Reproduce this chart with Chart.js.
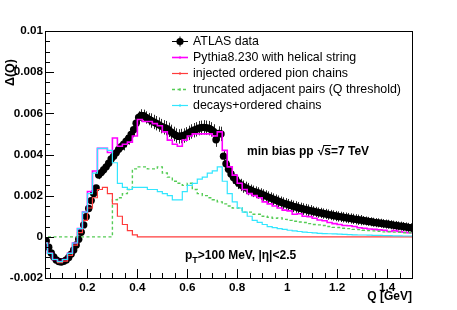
<!DOCTYPE html>
<html>
<head>
<meta charset="utf-8">
<script src="https://cdn.jsdelivr.net/npm/chart.js@4.4.1/dist/chart.umd.min.js"></script>
<style>
  html, body { margin: 0; padding: 0; background: #fff; }
  #wrap { width: 457px; height: 310px; }
</style>
</head>
<body>
<div id="wrap"><canvas id="chart" width="457" height="310"></canvas></div>
<script>
// ATLAS data: bin centres from 0.035 GeV, 0.01 GeV apart
const atlasFirstQ = 0.035;
const atlasStep = 0.01;
const atlasValues = [
  -0.00020, -0.00050, -0.00078, -0.00098, -0.00112, -0.00120, -0.00122, -0.00119, -0.00112, -0.00100,
  -0.00084, -0.00064, -0.00040, -0.00012, 0.00022, 0.00058, 0.00098, 0.00138, 0.00176, 0.00210,
  0.00238, 0.00300, 0.00312, 0.00326, 0.00340, 0.00358, 0.00378, 0.00392, 0.00408, 0.00425,
  0.00438, 0.00450, 0.00465, 0.00478, 0.00498, 0.00520, 0.00552, 0.00580, 0.00590, 0.00588,
  0.00580, 0.00572, 0.00565, 0.00558, 0.00552, 0.00545, 0.00538, 0.00532, 0.00528, 0.00520,
  0.00510, 0.00500, 0.00492, 0.00488, 0.00490, 0.00492, 0.00498, 0.00505, 0.00512, 0.00518,
  0.00522, 0.00528, 0.00530, 0.00532, 0.00530, 0.00528, 0.00522, 0.00512, 0.00472, 0.00502,
  0.00500, 0.00392, 0.00355, 0.00328, 0.00305, 0.00288, 0.00274, 0.00262, 0.00252, 0.00244,
  0.00238, 0.00232, 0.00226, 0.00221, 0.00217, 0.00213, 0.00208, 0.00203, 0.00198, 0.00193,
  0.00188, 0.00183, 0.00178, 0.00173, 0.00168, 0.00164, 0.00160, 0.00156, 0.00152, 0.00148,
  0.00145, 0.00141, 0.00138, 0.00135, 0.00132, 0.00129, 0.00126, 0.00124, 0.00121, 0.00118,
  0.00116, 0.00113, 0.00111, 0.00108, 0.00106, 0.00104, 0.00101, 0.00099, 0.00097, 0.00095,
  0.00093, 0.00091, 0.00089, 0.00087, 0.00085, 0.00083, 0.00081, 0.00079, 0.00077, 0.00075,
  0.00073, 0.00071, 0.00069, 0.00068, 0.00066, 0.00064, 0.00062, 0.00061, 0.00059, 0.00057,
  0.00055, 0.00053, 0.00052, 0.00050, 0.00048, 0.00046, 0.00044
];
const atlasErrors = [
  0.00006, 0.00006, 0.00006, 0.00006, 0.00006, 0.00006, 0.00006, 0.00006, 0.00006, 0.00006,
  0.00006, 0.00006, 0.0001, 0.0001, 0.0001, 0.0001, 0.0001, 0.0001, 0.0001, 0.0001,
  0.0001, 0.0002, 0.0002, 0.0002, 0.0002, 0.0002, 0.0002, 0.0002, 0.0002, 0.0002,
  0.0002, 0.0003, 0.0003, 0.0003, 0.0003, 0.0003, 0.0003, 0.0003, 0.0003, 0.0003,
  0.0003, 0.0003, 0.00035, 0.00035, 0.00035, 0.00035, 0.00035, 0.00035, 0.00035, 0.00035,
  0.00035, 0.00035, 0.00035, 0.00035, 0.00035, 0.00035, 0.00035, 0.00035, 0.00035, 0.00035,
  0.00035, 0.00035, 0.00035, 0.00035, 0.00035, 0.00035, 0.00035, 0.00035, 0.00035, 0.00035,
  0.00035, 0.0003, 0.0003, 0.0003, 0.0003, 0.0003, 0.0003, 0.0003, 0.0003, 0.0003,
  0.0003, 0.0003, 0.00028, 0.00028, 0.00028, 0.00028, 0.00028, 0.00028, 0.00028, 0.00028,
  0.00028, 0.00028, 0.00028, 0.00028, 0.00028, 0.00028, 0.00028, 0.00028, 0.00028, 0.00028,
  0.00028, 0.00028, 0.00028, 0.00028, 0.00028, 0.00028, 0.00028, 0.00025, 0.00025, 0.00025,
  0.00025, 0.00025, 0.00025, 0.00025, 0.00025, 0.00025, 0.00025, 0.00025, 0.00025, 0.00025,
  0.00025, 0.00025, 0.00025, 0.00025, 0.00025, 0.00025, 0.00025, 0.00022, 0.00022, 0.00022,
  0.00022, 0.00022, 0.00022, 0.00022, 0.00022, 0.00022, 0.00022, 0.00022, 0.00022, 0.00022,
  0.00022, 0.00022, 0.00022, 0.00022, 0.00022, 0.00022, 0.00022
];

// MC histograms: 0.02 GeV bins, first bin edge at 0.02 GeV
const mcFirstEdge = 0.02;
const mcBinWidth = 0.02;
const pythiaValues = [
  -0.0003, -0.0008, -0.0011, -0.0012, -0.0011, -0.0008, -0.0003, 0.0004, 0.0012, 0.0022,
  0.0032, 0.0043, 0.0043, 0.0041, 0.0048, 0.0044, 0.0045, 0.0046, 0.0049, 0.0057,
  0.0056, 0.0056, 0.0055, 0.0054, 0.0051, 0.0047, 0.0045, 0.0044, 0.0047, 0.0049,
  0.0050, 0.0050, 0.0050, 0.0050, 0.0049, 0.0051, 0.0042, 0.0034, 0.0030, 0.0026,
  0.0023, 0.0021, 0.0020, 0.0019, 0.0017, 0.0016, 0.0015, 0.0014, 0.0013, 0.00126,
  0.00110, 0.00112, 0.00100, 0.00098, 0.00090, 0.00082, 0.00078, 0.00070, 0.00064, 0.00060,
  0.00055, 0.00054, 0.00050, 0.00044, 0.00042, 0.00038, 0.00036, 0.00034, 0.00032, 0.00026,
  0.00030, 0.00026, 0.00022, 0.00020
];
const injectedValues = [
  -0.0003, -0.0008, -0.0011, -0.00125, -0.00118, -0.0009, -0.0004, 0.0002, 0.0008, 0.0014,
  0.0019, 0.0023, 0.0024, 0.0021, 0.0016, 0.0010, 0.0006, 0.0003, 0.0001, 0,
  0, 0, 0, 0, 0, 0, 0, 0, 0, 0,
  0, 0, 0, 0, 0, 0, 0, 0, 0, 0,
  0, 0, 0, 0, 0, 0, 0, 0, 0, 0,
  0, 0, 0, 0, 0, 0, 0, 0, 0, 0,
  0, 0, 0, 0, 0, 0, 0, 0, 0, 0,
  0, 0, 0, 0
];
const truncatedValues = [
  0, 0, 0, 0, 0, 0, 0, 0, 0, 0,
  0, 0, 0, 0, 0.0018, 0.0019, 0.0021, 0.0023, 0.0033, 0.0034,
  0.0034, 0.0033, 0.0033, 0.0034, 0.0031, 0.0029, 0.0027, 0.0026, 0.0025, 0.0026,
  0.0023, 0.0021, 0.0020, 0.0019, 0.0018, 0.0017, 0.0016, 0.0015, 0.0014, 0.0014,
  0.0012, 0.0012, 0.0011, 0.0011, 0.0010, 0.00095, 0.0009, 0.00092, 0.00085, 0.0008,
  0.00076, 0.00072, 0.0007, 0.00064, 0.0006, 0.00058, 0.00055, 0.0005, 0.00046, 0.00045,
  0.00042, 0.0004, 0.00036, 0.00035, 0.00032, 0.0003, 0.00029, 0.00027, 0.00024, 0.00025,
  0.00023, 0.00022, 0.0002, 0.0002
];
const decaysValues = [
  -0.0003, -0.0008, -0.0011, -0.0012, -0.0011, -0.0008, -0.0003, 0.0004, 0.0012, 0.0021,
  0.0031, 0.0043, 0.0043, 0.0042, 0.0036, 0.0026, 0.0024, 0.0023, 0.0024, 0.0024,
  0.0024, 0.0023, 0.0023, 0.0022, 0.0021, 0.0020, 0.0018, 0.0018, 0.0022, 0.0025,
  0.0026, 0.0028, 0.0029, 0.0031, 0.0032, 0.0034, 0.0027, 0.0021, 0.0017, 0.0014,
  0.0012, 0.0010, 0.0008, 0.0007, 0.0006, 0.0005, 0.00045, 0.0004, 0.00036, 0.00032,
  0.00029, 0.00026, 0.00023, 0.00021, 0.00019, 0.00017, 0.00016, 0.00015, 0.00014, 0.00013,
  0.00012, 0.00011, 0.0001, 0.00009, 0.00009, 0.00008, 0.00007, 0.00007, 0.00006, 0.00006,
  0.00005, 0.00005, 0.00004, 0.00004
];

const seriesLabels = [
  'ATLAS data',
  'Pythia8.230 with helical string',
  'injected ordered pion chains',
  'truncated adjacent pairs (Q threshold)',
  'decays+ordered chains'
];
const yTickValues = [-0.002, 0, 0.002, 0.004, 0.006, 0.008, 0.01];
const yTickLabels = ['-0.002', '0', '0.002', '0.004', '0.006', '0.008', '0.01'];
const xTickValues = [0.2, 0.4, 0.6, 0.8, 1, 1.2, 1.4];
const xTickLabels = ['0.2', '0.4', '0.6', '0.8', '1', '1.2', '1.4'];

const FONT = '"Liberation Sans", Arial, Helvetica, sans-serif';
const font = (size, bold) => (bold ? 'bold ' : '') + size + 'px ' + FONT;

// step histogram: one point per left bin edge + closing point at the last right edge
function histPoints(values) {
  const pts = values.map((v, i) => ({ x: mcFirstEdge + i * mcBinWidth, y: v }));
  pts.push({ x: mcFirstEdge + values.length * mcBinWidth, y: values[values.length - 1] });
  return pts;
}

const atlasPoints = atlasValues.map((v, i) => ({ x: atlasFirstQ + i * atlasStep, y: v }));

function histDataset(label, values, color, width, order, dash) {
  return {
    label,
    data: histPoints(values),
    showLine: true,
    stepped: true,
    borderColor: color,
    borderWidth: width,
    borderDash: dash || [],
    pointRadius: 0,
    fill: false,
    order
  };
}

// ROOT-like frame, inward ticks, error bars, legend and labels
const rootStyle = {
  id: 'rootStyle',
  beforeDatasetsDraw(chart) {
    const { ctx, scales: { x, y } } = chart;
    const area = chart.chartArea;
    ctx.save();
    ctx.beginPath();
    ctx.rect(area.left, area.top, area.right - area.left, area.bottom - area.top);
    ctx.clip();
    ctx.strokeStyle = '#2a2a2a';
    ctx.lineWidth = 1;
    ctx.beginPath();
    atlasPoints.forEach((p, i) => {
      const px = Math.round(x.getPixelForValue(p.x)) + 0.5;
      ctx.moveTo(px, y.getPixelForValue(p.y + atlasErrors[i]));
      ctx.lineTo(px, y.getPixelForValue(p.y - atlasErrors[i]));
    });
    ctx.stroke();
    ctx.restore();
  },
  afterDraw(chart) {
    const { ctx, scales: { x, y } } = chart;
    const { left, right, top, bottom } = chart.chartArea;
    ctx.save();

    // frame
    ctx.strokeStyle = '#000';
    ctx.lineWidth = 1;
    ctx.strokeRect(Math.round(left) + 0.5, Math.round(top) + 0.5,
      Math.round(right - left), Math.round(bottom - top));

    // y ticks every 0.0005, major every 0.002
    ctx.beginPath();
    for (let k = -4; k <= 20; k++) {
      const py = Math.round(y.getPixelForValue(k * 0.0005)) + 0.5;
      const len = k % 4 === 0 ? 9 : 5;
      ctx.moveTo(left, py);
      ctx.lineTo(left + len, py);
    }
    // x ticks every 0.05, major every 0.2
    for (let k = 1; k <= 30; k++) {
      const q = k * 0.05;
      if (q < x.min) continue;
      const px = Math.round(x.getPixelForValue(q)) + 0.5;
      const len = k % 4 === 0 ? 9 : 5;
      ctx.moveTo(px, bottom);
      ctx.lineTo(px, bottom - len);
    }
    ctx.stroke();

    // legend
    const ds = chart.data.datasets;
    ctx.font = font(12.4, false);
    ctx.textBaseline = 'middle';
    ctx.textAlign = 'left';
    ds.forEach((d, i) => {
      const ry = Math.round(41 + i * 15.9) + 0.5;
      const x0 = 172, x1 = 188, xm = 180;
      ctx.save();
      if (i === 0) {
        ctx.strokeStyle = '#000';
        ctx.lineWidth = 1;
        ctx.beginPath();
        ctx.moveTo(x0, ry); ctx.lineTo(x1, ry);
        ctx.moveTo(xm, ry - 5); ctx.lineTo(xm, ry + 5);
        ctx.stroke();
        ctx.fillStyle = '#000';
        ctx.beginPath();
        ctx.arc(xm, ry, 3.6, 0, Math.PI * 2);
        ctx.fill();
      } else {
        ctx.strokeStyle = d.borderColor;
        ctx.lineWidth = d.borderWidth;
        ctx.setLineDash(d.borderDash);
        ctx.beginPath();
        ctx.moveTo(x0, ry); ctx.lineTo(x1, ry);
        ctx.stroke();
        ctx.setLineDash([]);
        ctx.lineWidth = 1;
        ctx.beginPath();
        ctx.moveTo(xm, ry - 1.5); ctx.lineTo(xm, ry + 1.5);
        ctx.stroke();
      }
      ctx.restore();
      ctx.fillStyle = '#000';
      ctx.fillText(d.label, 193, ry);
    });

    // annotation: min bias pp sqrt(s)=7 TeV
    ctx.font = font(12, true);
    ctx.fillStyle = '#000';
    let tx = 247;
    const ty = 152;
    ctx.fillText('min bias pp', tx, ty);
    tx += ctx.measureText('min bias pp').width + 4;
    ctx.fillText('\u221A', tx, ty);
    tx += ctx.measureText('\u221A').width;
    const sw = ctx.measureText('s').width;
    ctx.fillText('s', tx, ty);
    ctx.beginPath();
    ctx.lineWidth = 1;
    ctx.moveTo(tx - 1, ty - 6.5);
    ctx.lineTo(tx + sw, ty - 6.5);
    ctx.stroke();
    tx += sw;
    ctx.fillText('=7 TeV', tx, ty);

    // annotation: pT>100 MeV, |eta|<2.5
    tx = 185;
    const py = 256;
    ctx.fillText('p', tx, py);
    tx += ctx.measureText('p').width;
    ctx.font = font(9, true);
    ctx.fillText('T', tx, py + 5);
    tx += ctx.measureText('T').width;
    ctx.font = font(12, true);
    ctx.fillText('>100 MeV, |\u03B7|<2.5', tx, py);

    // axis titles
    ctx.font = font(12, true);
    ctx.textAlign = 'right';
    ctx.fillText('Q [GeV]', right, 297);
    ctx.save();
    ctx.translate(11, 59);
    ctx.rotate(-Math.PI / 2);
    ctx.font = font(12.5, true);
    ctx.fillText('\u0394(Q)', 0, 0);
    ctx.restore();

    ctx.restore();
  }
};

const ctx = document.getElementById('chart');
new Chart(ctx, {
  type: 'scatter',
  data: {
    datasets: [
      {
        label: seriesLabels[0],
        data: atlasPoints,
        showLine: false,
        pointRadius: 3.7,
        pointBackgroundColor: '#000',
        pointBorderWidth: 0,
        order: 5
      },
      histDataset(seriesLabels[1], pythiaValues, '#ff00ff', 1.6, 3),
      histDataset(seriesLabels[2], injectedValues, '#ff3c3c', 1.2, 2),
      histDataset(seriesLabels[3], truncatedValues, '#55cc55', 1.4, 2, [3, 2.5]),
      histDataset(seriesLabels[4], decaysValues, '#33e6ff', 1.2, 1)
    ]
  },
  options: {
    responsive: false,
    animation: false,
    events: [],
    layout: { padding: { left: 0, right: 45, top: 31, bottom: 0 } },
    plugins: {
      legend: { display: false },
      tooltip: { enabled: false }
    },
    scales: {
      x: {
        type: 'linear',
        min: 0.03,
        max: 1.5,
        grid: { display: false, drawTicks: false },
        border: { display: false },
        afterBuildTicks: s => { s.ticks = xTickValues.map(v => ({ value: v })); },
        afterFit: s => { s.height = 32; },
        ticks: {
          autoSkip: false,
          maxRotation: 0,
          padding: 3,
          color: '#000',
          font: { family: FONT, size: 11.7, weight: 'bold' },
          callback: v => xTickLabels[xTickValues.indexOf(v)]
        }
      },
      y: {
        type: 'linear',
        min: -0.002,
        max: 0.01,
        grid: { display: false, drawTicks: false },
        border: { display: false },
        afterBuildTicks: s => { s.ticks = yTickValues.map(v => ({ value: v })); },
        afterFit: s => { s.width = 45; },
        ticks: {
          autoSkip: false,
          padding: 2,
          color: '#000',
          font: { family: FONT, size: 11.7, weight: 'bold' },
          callback: v => yTickLabels[yTickValues.indexOf(v)]
        }
      }
    }
  },
  plugins: [rootStyle]
});
</script>
</body>
</html>
